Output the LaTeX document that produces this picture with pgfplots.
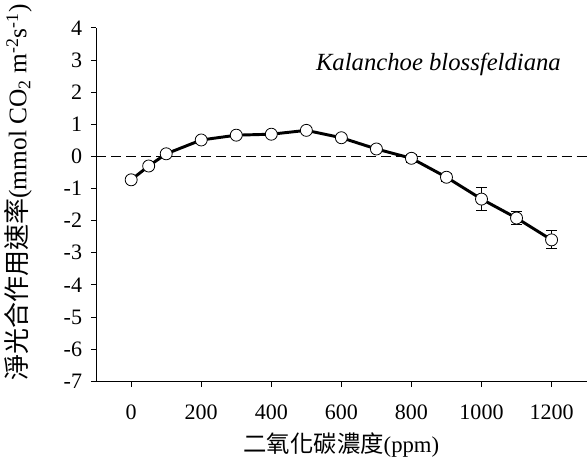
\documentclass[border=0pt]{standalone}
\usepackage{fontspec}
\setmainfont{Liberation Serif}
\newfontfamily\cjk{Noto Sans CJK TC}
\usepackage{pgfplots}
\pgfplotsset{compat=1.18}

\begin{document}
\begin{tikzpicture}
\begin{axis}[
  width=367.5pt, height=264.75pt,
  scale only axis,
  xmin=-100, xmax=1300,
  ymin=-7, ymax=4,
  axis x line=bottom,
  axis y line=left,
  axis line style={-, line width=0.6pt},
  xtick={0,200,...,1200},
  ytick={-7,-6,...,4},
  tick align=outside,
  major tick length=4pt,
  tick style={line width=0.6pt, black},
  /pgf/number format/assume math mode=true,
  /pgf/number format/1000 sep={},
  tick label style={font=\fontsize{16.5}{18}\selectfont},
  xticklabel style={yshift=-10pt},
  yticklabel style={xshift=-3pt},
  xlabel={{\cjk\fontsize{17.5}{19}\selectfont 二氧化碳濃度}(ppm)},
  ylabel={{\cjk\fontsize{19.5}{21}\selectfont 淨光合作用速率}(mmol CO\textsubscript{2} m\textsuperscript{-2}s\textsuperscript{-1})},
  xlabel style={font=\fontsize{17}{19}\selectfont, yshift=-3pt},
  ylabel style={font=\fontsize{19}{21}\selectfont, yshift=17pt, xshift=9pt},
  clip=false,
]
\addplot[black, line width=0.6pt, dash pattern=on 7.5pt off 3.75pt, forget plot]
  coordinates {(-100,0) (1300,0)};
\addplot[black, line width=2.2pt,
  mark=*, mark size=4.5pt,
  mark options={fill=white, draw=black, line width=0.6pt},
  error bars/.cd, y dir=both, y explicit,
  error bar style={line width=0.6pt, black},
  error mark options={rotate=90, mark size=4pt, line width=0.6pt, black}]
  coordinates {
    (0,-0.73) +- (0,0.05)
    (50,-0.30) +- (0,0.05)
    (100,0.08) +- (0,0.05)
    (200,0.51) +- (0,0.05)
    (300,0.66) +- (0,0.05)
    (400,0.69) +- (0,0.06)
    (500,0.81) +- (0,0.05)
    (600,0.58) +- (0,0.06)
    (700,0.23) +- (0,0.08)
    (800,-0.06) +- (0,0.12)
    (900,-0.65) +- (0,0.12)
    (1000,-1.33) +- (0,0.35)
    (1100,-1.92) +- (0,0.20)
    (1200,-2.60) +- (0,0.28)
  };
\node[font=\fontsize{18.5}{20}\selectfont\itshape] at (axis cs:877,2.85) {Kalanchoe blossfeldiana};
\end{axis}
\end{tikzpicture}
\end{document}
